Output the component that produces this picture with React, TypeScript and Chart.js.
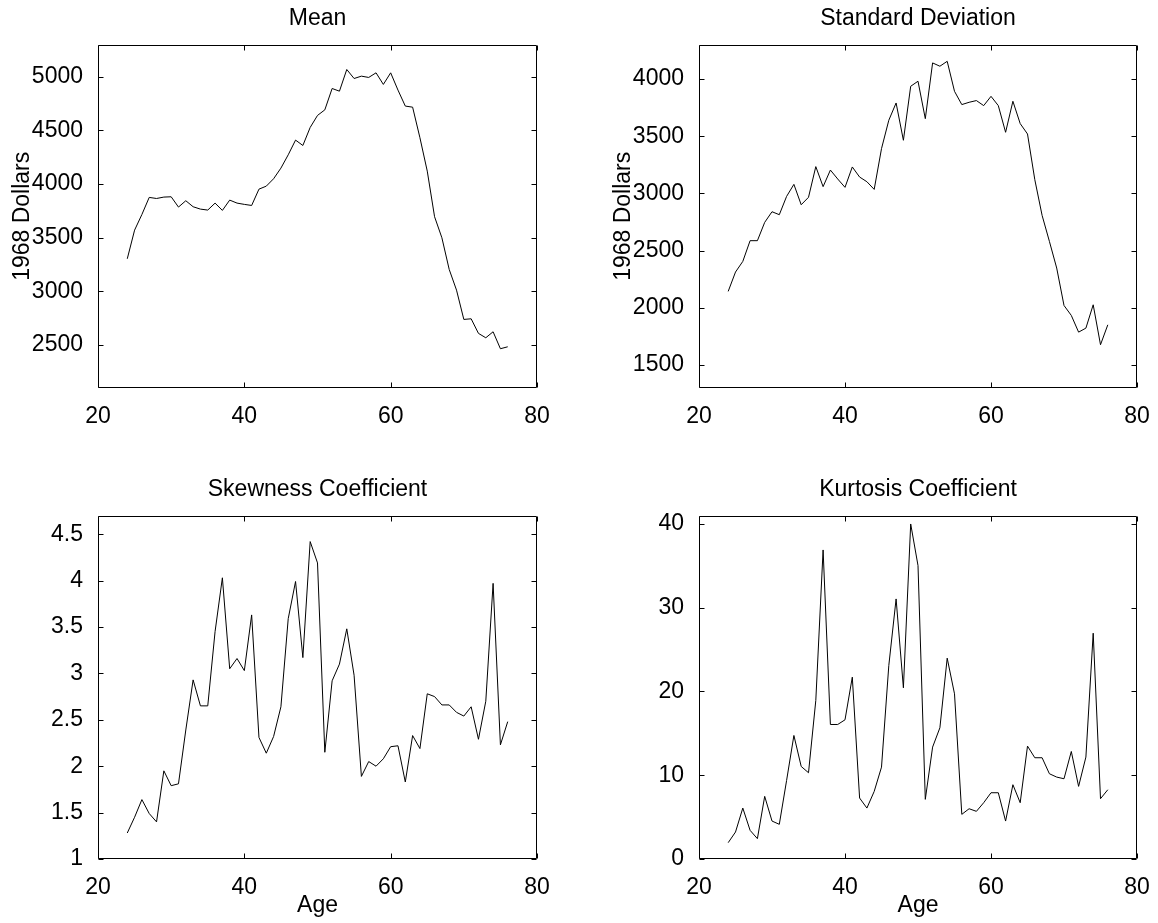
import React, { useEffect, useRef } from 'react';
import { Chart, registerables } from 'chart.js';

Chart.register(...registerables);

// ---------- data ----------
const ages = [
  24, 25, 26, 27, 28, 29, 30, 31, 32, 33, 34, 35, 36, 37, 38, 39, 40, 41, 42, 43,
  44, 45, 46, 47, 48, 49, 50, 51, 52, 53, 54, 55, 56, 57, 58, 59, 60, 61, 62, 63,
  64, 65, 66, 67, 68, 69, 70, 71, 72, 73, 74, 75, 76,
];

const meanValues = [
  3304, 3571, 3717, 3876, 3866, 3879, 3882, 3786, 3845, 3789, 3767, 3758, 3823, 3755,
  3851, 3823, 3811, 3801, 3953, 3981, 4050, 4149, 4273, 4410, 4360, 4528, 4640, 4692,
  4891, 4866, 5068, 4984, 5006, 4994, 5037, 4929, 5037, 4876, 4727, 4717, 4432, 4121,
  3696, 3500, 3205, 3012, 2739, 2745, 2609, 2568, 2624, 2466, 2484,
];

const sdValues = [
  2144, 2313, 2406, 2587, 2587, 2747, 2840, 2814, 2974, 3079, 2901, 2966, 3234, 3059,
  3204, 3126, 3053, 3231, 3143, 3102, 3035, 3391, 3639, 3790, 3464, 3936, 3980, 3653,
  4140, 4111, 4154, 3892, 3776, 3796, 3811, 3767, 3848, 3767, 3534, 3805, 3610, 3519,
  3120, 2808, 2581, 2348, 2021, 1934, 1788, 1823, 2027, 1678, 1852,
];

const skewValues = [
  1.28, 1.45, 1.64, 1.49, 1.4, 1.95, 1.79, 1.81, 2.39, 2.93, 2.65, 2.65, 3.45, 4.03,
  3.05, 3.16, 3.03, 3.63, 2.31, 2.14, 2.32, 2.64, 3.59, 3.99, 3.17, 4.42, 4.19, 2.15,
  2.92, 3.1, 3.48, 2.98, 1.89, 2.05, 2.0, 2.08, 2.21, 2.22, 1.83, 2.33, 2.19, 2.78,
  2.75, 2.66, 2.66, 2.58, 2.54, 2.64, 2.29, 2.7, 3.97, 2.23, 2.48,
];

const kurtValues = [
  1.95, 3.22, 6.08, 3.42, 2.43, 7.48, 4.53, 4.14, 9.38, 14.75, 11.05, 10.3, 18.93, 36.9,
  16.06, 16.06, 16.62, 21.71, 7.28, 6.08, 8.07, 10.97, 23.1, 31.05, 20.44, 40.0, 35.03,
  7.12, 13.36, 15.67, 23.98, 19.72, 5.33, 6.0, 5.69, 6.72, 7.91, 7.91, 4.53, 8.87, 6.72,
  13.48, 12.09, 12.09, 10.18, 9.78, 9.58, 12.84, 8.67, 12.17, 26.96, 7.2, 8.27,
];

const xTicks = [20, 40, 60, 80];
const meanTicks = [2500, 3000, 3500, 4000, 4500, 5000];
const sdTicks = [1500, 2000, 2500, 3000, 3500, 4000];
const skewTicks = [1, 1.5, 2, 2.5, 3, 3.5, 4, 4.5];
const kurtTicks = [0, 10, 20, 30, 40];

const titles = ['Mean', 'Standard Deviation', 'Skewness Coefficient', 'Kurtosis Coefficient'];
const yLabelText = '1968 Dollars';
const xLabelText = 'Age';

// ---------- style / layout ----------
const FONT = '"Liberation Sans", Arial, Helvetica, sans-serif';
const FS = 23;
const TICK_LEN = 5;

const boxPlugin = {
  id: 'matlabBox',
  afterDatasetsDraw(chart: any) {
    const { ctx, chartArea: a, scales } = chart;
    const L = Math.round(a.left) + 0.5;
    const R = Math.round(a.right) - 0.5;
    const T = Math.round(a.top) + 0.5;
    const B = Math.round(a.bottom) - 0.5;
    ctx.save();
    ctx.strokeStyle = '#000';
    ctx.lineWidth = 1;
    ctx.beginPath();
    ctx.rect(L, T, R - L, B - T);
    for (const t of scales.x.ticks) {
      const px = Math.round(scales.x.getPixelForValue(t.value)) + 0.5;
      ctx.moveTo(px, B);
      ctx.lineTo(px, B - TICK_LEN);
      ctx.moveTo(px, T);
      ctx.lineTo(px, T + TICK_LEN);
    }
    for (const t of scales.y.ticks) {
      const py = Math.round(scales.y.getPixelForValue(t.value)) + 0.5;
      ctx.moveTo(L, py);
      ctx.lineTo(L + TICK_LEN, py);
      ctx.moveTo(R, py);
      ctx.lineTo(R - TICK_LEN, py);
    }
    ctx.stroke();
    ctx.restore();
  },
};

type PanelProps = {
  canvasLeft: number;
  canvasTop: number;
  canvasWidth: number;
  canvasHeight: number;
  plotRight: number; // page coord
  xAxisHeight: number;
  title: string;
  values: number[];
  yMin: number;
  yMax: number;
  yTicks: number[];
  yLabel?: string;
  xLabel?: string;
};

function Panel(p: PanelProps) {
  const ref = useRef<HTMLCanvasElement | null>(null);

  useEffect(() => {
    if (!ref.current) return;
    const points = ages.map((a, i) => ({ x: a, y: p.values[i] }));
    const chart = new Chart(ref.current, {
      type: 'line',
      data: {
        datasets: [
          {
            data: points,
            borderColor: '#000',
            borderWidth: 1,
            pointRadius: 0,
            tension: 0,
            fill: false,
          },
        ],
      },
      options: {
        animation: false,
        responsive: false,
        maintainAspectRatio: false,
        events: [],
        layout: {
          padding: {
            left: 0,
            top: 0,
            bottom: 0,
            right: p.canvasLeft + p.canvasWidth - p.plotRight,
          },
        },
        plugins: {
          legend: { display: false },
          tooltip: { enabled: false },
          title: {
            display: true,
            fullSize: false,
            text: p.title,
            color: '#000',
            font: { family: FONT, size: FS, weight: 'normal' },
            padding: { top: 5, bottom: 12 },
          },
        },
        scales: {
          x: {
            type: 'linear',
            min: 20,
            max: 80,
            afterBuildTicks: (s: any) => {
              s.ticks = xTicks.map((v) => ({ value: v }));
            },
            afterFit: (s: any) => {
              s.height = p.xAxisHeight;
            },
            grid: { display: false },
            border: { display: false },
            ticks: {
              color: '#000',
              font: { family: FONT, size: FS },
              padding: 7,
              maxRotation: 0,
              autoSkip: false,
              callback: (v: any) => String(v),
            },
            title: p.xLabel
              ? {
                  display: true,
                  text: p.xLabel,
                  color: '#000',
                  font: { family: FONT, size: FS },
                  padding: { top: 0, bottom: 4 },
                }
              : { display: false },
          },
          y: {
            type: 'linear',
            min: p.yMin,
            max: p.yMax,
            afterBuildTicks: (s: any) => {
              s.ticks = p.yTicks.map((v) => ({ value: v }));
            },
            afterFit: (s: any) => {
              s.width = 98;
            },
            grid: { display: false },
            border: { display: false },
            ticks: {
              color: '#000',
              font: { family: FONT, size: FS },
              padding: 7,
              autoSkip: false,
              callback: (v: any) => String(v),
            },
            title: p.yLabel
              ? {
                  display: true,
                  text: p.yLabel,
                  color: '#000',
                  font: { family: FONT, size: FS },
                  padding: { top: 8.7, bottom: 0 },
                }
              : { display: false },
          },
        },
      },
      plugins: [boxPlugin],
    } as any);
    return () => chart.destroy();
  }, []);

  return (
    <canvas
      ref={ref}
      width={p.canvasWidth}
      height={p.canvasHeight}
      style={{
        position: 'absolute',
        left: p.canvasLeft,
        top: p.canvasTop,
        width: p.canvasWidth,
        height: p.canvasHeight,
      }}
    />
  );
}

export default function App() {
  return (
    <div
      style={{
        position: 'absolute',
        left: 0,
        top: 0,
        width: 1158,
        height: 923,
        background: '#fff',
        overflow: 'hidden',
      }}
    >
      <Panel
        canvasLeft={0}
        canvasTop={0}
        canvasWidth={579}
        canvasHeight={461}
        plotRight={537}
        xAxisHeight={73}
        title={titles[0]}
        values={meanValues}
        yMin={2100}
        yMax={5300}
        yTicks={meanTicks}
        yLabel={yLabelText}
      />
      <Panel
        canvasLeft={601}
        canvasTop={0}
        canvasWidth={557}
        canvasHeight={461}
        plotRight={1137}
        xAxisHeight={73}
        title={titles[1]}
        values={sdValues}
        yMin={1300}
        yMax={4300}
        yTicks={sdTicks}
        yLabel={yLabelText}
      />
      <Panel
        canvasLeft={0}
        canvasTop={471}
        canvasWidth={579}
        canvasHeight={452}
        plotRight={537}
        xAxisHeight={64}
        title={titles[2]}
        values={skewValues}
        yMin={1}
        yMax={4.7}
        yTicks={skewTicks}
        xLabel={xLabelText}
      />
      <Panel
        canvasLeft={601}
        canvasTop={471}
        canvasWidth={557}
        canvasHeight={452}
        plotRight={1137}
        xAxisHeight={64}
        title={titles[3]}
        values={kurtValues}
        yMin={0}
        yMax={41}
        yTicks={kurtTicks}
        xLabel={xLabelText}
      />
    </div>
  );
}
